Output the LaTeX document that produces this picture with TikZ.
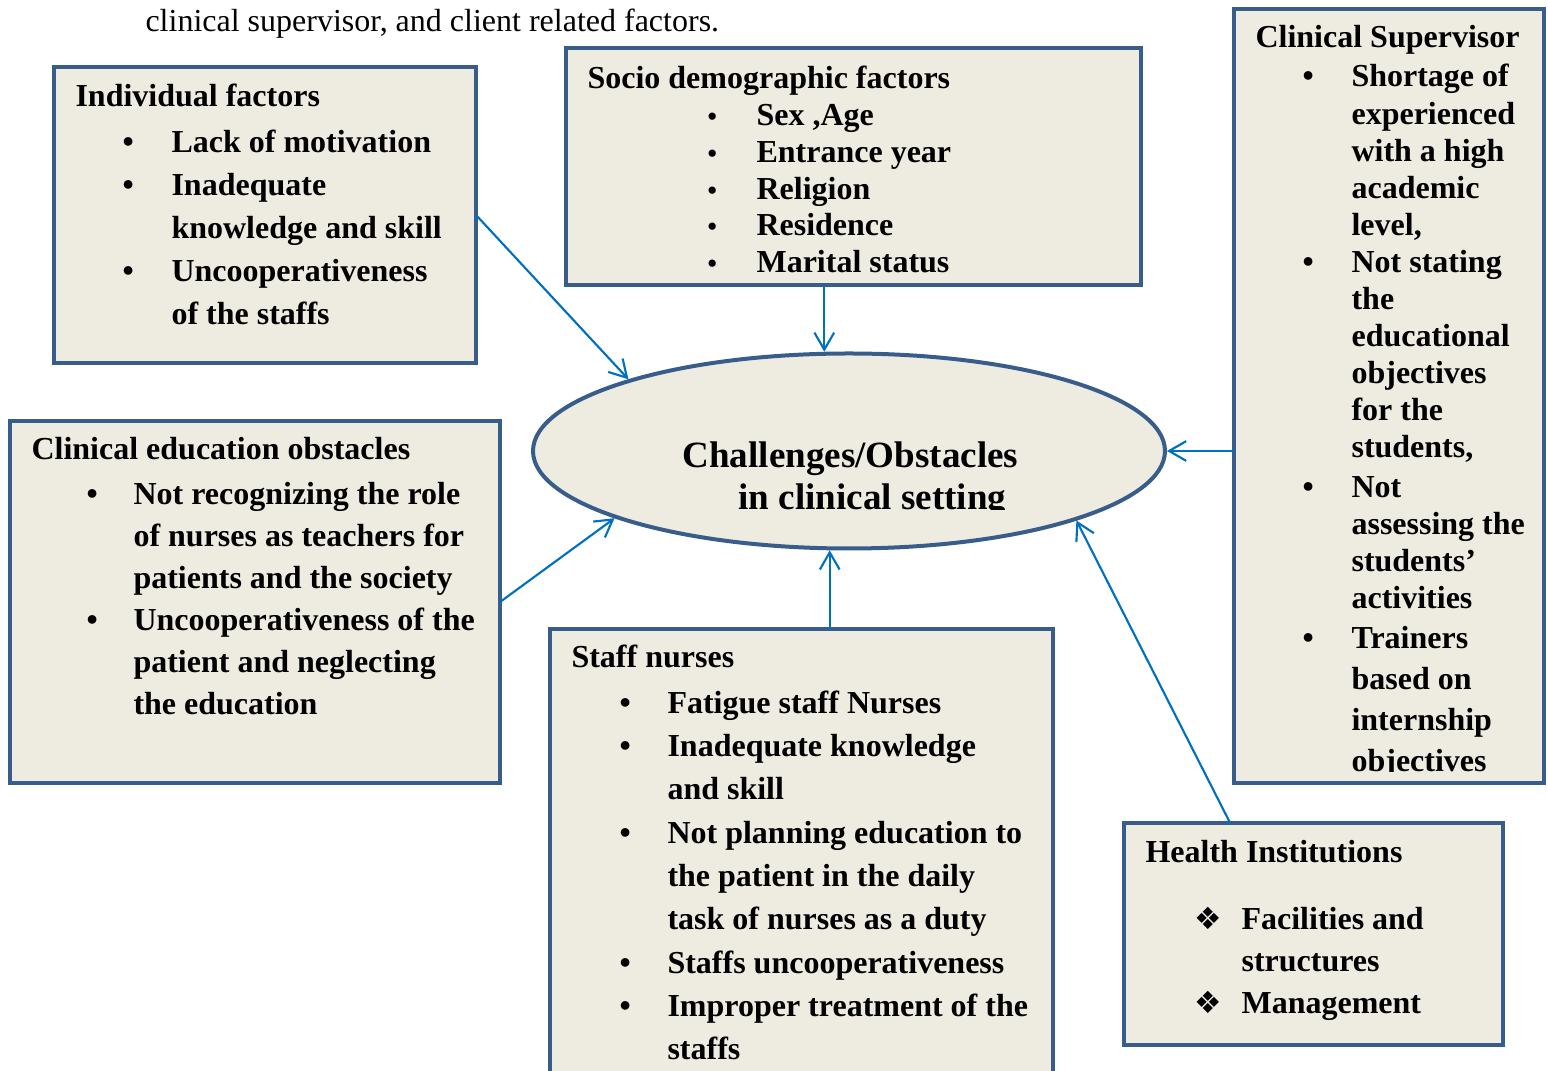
\documentclass[tikz,border=0pt]{standalone}
\usepackage{fontspec}
\setmainfont{Liberation Serif}
\newfontfamily\dejavu{DejaVu Sans}
\usepackage{array}
\usetikzlibrary{arrows.meta,calc,shapes.geometric}
\newlength\pxl
\setlength\pxl{0.375pt}
\definecolor{boxfill}{HTML}{EEECE1}
\definecolor{boxline}{HTML}{385D8A}
\definecolor{linkblue}{HTML}{0070C0}
\newcommand\bul[1]{\hspace*{#1\pxl}{\large\textbullet}}
\newcommand\sbul[1]{\hspace*{#1\pxl}{\normalsize\textbullet}}
\newcommand\dia[1]{\hspace*{#1\pxl}{\dejavu\fontsize{11.5}{11.5}\selectfont ❖}}

\begin{document}
\begin{tikzpicture}[x=0.375pt,y=-0.375pt,
    factor/.style={draw=boxline, line width=1.5pt, fill=boxfill, anchor=north west, inner sep=0pt, outer sep=0pt},
    ftext/.style={anchor=base west, inner sep=0pt, font=\bfseries\fontsize{12}{#1}\selectfont},
    ftext/.default=16pt,
    link/.style={draw=linkblue, line width=0.8pt, -{Straight Barb[length=6.4pt,width=7.4pt]}}]
        \useasboundingbox (0,0) rectangle (1548,1071);

        % line of the page above the figure
        \node[anchor=base west, inner sep=0pt, font=\fontsize{12}{14}\selectfont] (intro) at (145,32)
            {clinical supervisor, and client related factors.};

        % boxes
        \node[factor, minimum width=422\pxl, minimum height=296\pxl] (indiv) at (54,67) {};
        \node[factor, minimum width=575\pxl, minimum height=237\pxl] (socio) at (566,48) {};
        \node[factor, minimum width=310\pxl, minimum height=774\pxl] (sup) at (1234,9) {};
        \node[factor, minimum width=490\pxl, minimum height=362\pxl] (cedu) at (10,421) {};
        \node[factor, minimum width=503\pxl, minimum height=480\pxl] (staff) at (550,629) {};
        \node[factor, minimum width=379\pxl, minimum height=222\pxl] (health) at (1124,823) {};
        \node[ellipse, draw=boxline, line width=1.5pt, fill=boxfill, inner sep=0pt,
              minimum width=632\pxl, minimum height=195\pxl] (chal) at (849,451) {};

        % texts
        \node[ftext=16.13pt] (indivtxt) at (75,107) {\begin{tabular}[t]{@{}p{96\pxl}@{}l@{}}
            \multicolumn{2}{@{}l@{}}{Individual factors}\\[2\pxl]
            \bul{47} & Lack of motivation\\
            \bul{47} & Inadequate\\
                     & knowledge and skill\\
            \bul{47} & Uncooperativeness\\
                     & of the staffs
        \end{tabular}};

        \node[ftext=13.76pt] (sociotxt) at (587,89) {\begin{tabular}[t]{@{}p{169\pxl}@{}l@{}}
            \multicolumn{2}{@{}l@{}}{Socio demographic factors}\\
            \sbul{120} & Sex ,Age\\
            \sbul{120} & Entrance year\\
            \sbul{120} & Religion\\
            \sbul{120} & Residence\\
            \sbul{120} & Marital status
        \end{tabular}};

        \begin{scope}
            \clip (1236,11) rectangle (1542,771.5);
            \node[ftext=13.88pt] (suptxt) at (1255,48) {\begin{tabular}[t]{@{}p{96\pxl}@{}l@{}}
                \multicolumn{2}{@{}l@{}}{Clinical Supervisor}\\[2\pxl]
                \bul{47} & Shortage of\\
                         & experienced\\
                         & with a high\\
                         & academic\\
                         & level,\\
                \bul{47} & Not stating\\
                         & the\\
                         & educational\\
                         & objectives\\
                         & for the\\
                         & students,\\[3\pxl]
                \bul{47} & Not\\
                         & assessing the\\
                         & students’\\
                         & activities\\[3\pxl]
                \bul{47} & Trainers\\[4\pxl]
                         & based on\\[4\pxl]
                         & internship\\[4\pxl]
                         & objectives
            \end{tabular}};
        \end{scope}

        \node[ftext=15.75pt] (cedutxt) at (31,460) {\begin{tabular}[t]{@{}p{102\pxl}@{}l@{}}
            \multicolumn{2}{@{}l@{}}{Clinical education obstacles}\\[3\pxl]
            \bul{55} & Not recognizing the role\\
                     & of nurses as teachers for\\
                     & patients and the society\\
            \bul{55} & Uncooperativeness of the\\
                     & patient and neglecting\\
                     & the education
        \end{tabular}};

        \node[ftext=16.24pt] (stafftxt) at (571,668) {\begin{tabular}[t]{@{}p{96\pxl}@{}l@{}}
            \multicolumn{2}{@{}l@{}}{Staff nurses}\\[2\pxl]
            \bul{48} & Fatigue staff Nurses\\
            \bul{48} & Inadequate knowledge\\
                     & and skill\\
            \bul{48} & Not planning education to\\
                     & the patient in the daily\\
                     & task of nurses as a duty\\
            \bul{48} & Staffs uncooperativeness\\
            \bul{48} & Improper treatment of the\\
                     & staffs
        \end{tabular}};

        \node[ftext=15.75pt] (healthtxt) at (1145,863) {\begin{tabular}[t]{@{}p{96\pxl}@{}l@{}}
            \multicolumn{2}{@{}l@{}}{Health Institutions}\\[25\pxl]
            \dia{49} & Facilities and\\
                     & structures\\
            \dia{49} & Management
        \end{tabular}};

        % centre text, cut off at the bottom as in the original
        \begin{scope}
            \clip (600,420) rectangle (1100,510);
            \node[anchor=base west, inner sep=0pt, font=\bfseries\fontsize{13.9}{15.4}\selectfont] (chaltxt) at (682,468)
                {\begin{tabular}[t]{@{}l@{}}
                    Challenges/Obstacles\\
                    \hspace*{56\pxl}in clinical setting
                \end{tabular}};
        \end{scope}

        % arrows into the ellipse
        \draw[link] (indiv.east) -- (chal.162);
        \draw[link] (socio.south -| chal.104) -- (chal.104);
        \draw[link] (sup.west |- chal.east) -- (chal.east);
        \draw[link] (cedu.east) -- (chal.196);
        \draw[link] (staff.north -| chal.259) -- (chal.259);
        \draw[link] ($(health.north west)!0.28!(health.north east)$) -- (chal.343);

    \end{tikzpicture}
\end{document}
